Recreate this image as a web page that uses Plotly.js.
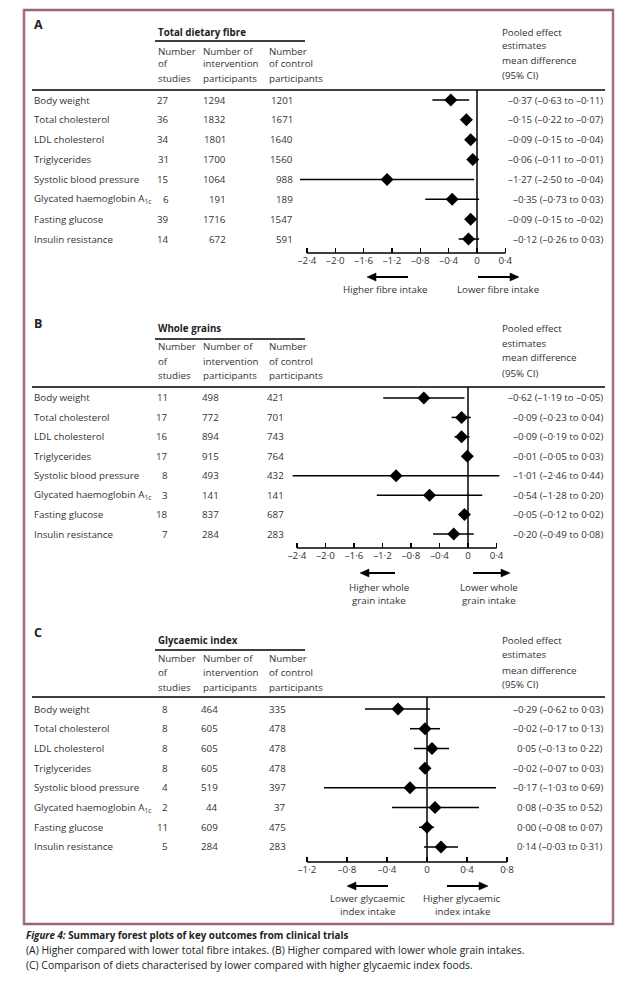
<!DOCTYPE html>
<html><head><meta charset="utf-8">
<script src="https://cdn.plot.ly/plotly-3.0.1.min.js"></script>
<style>html,body{margin:0;padding:0;background:#fff}#chart{width:640px;height:989px}</style>
</head><body><div id="chart"></div>
<script>
// ---------------- DATA ----------------
const outcomes = ["Body weight","Total cholesterol","LDL cholesterol","Triglycerides","Systolic blood pressure","Glycated haemoglobin A<sub>1c</sub>","Fasting glucose","Insulin resistance"];

const fibreStudies = [27,36,34,31,15,6,39,14];
const fibreIntervention = [1294,1832,1801,1700,1064,191,1716,672];
const fibreControl = [1201,1671,1640,1560,988,189,1547,591];
const fibreEstimate = [-0.37,-0.15,-0.09,-0.06,-1.27,-0.35,-0.09,-0.12];
const fibreLower = [-0.63,-0.22,-0.15,-0.11,-2.50,-0.73,-0.15,-0.26];
const fibreUpper = [-0.11,-0.07,-0.04,-0.01,-0.04,0.03,-0.02,0.03];
const fibreTicks = [-2.4,-2.0,-1.6,-1.2,-0.8,-0.4,0,0.4];

const grainStudies = [11,17,16,17,8,3,18,7];
const grainIntervention = [498,772,894,915,493,141,837,284];
const grainControl = [421,701,743,764,432,141,687,283];
const grainEstimate = [-0.62,-0.09,-0.09,-0.01,-1.01,-0.54,-0.05,-0.20];
const grainLower = [-1.19,-0.23,-0.19,-0.05,-2.46,-1.28,-0.12,-0.49];
const grainUpper = [-0.05,0.04,0.02,0.03,0.44,0.20,0.02,0.08];
const grainTicks = [-2.4,-2.0,-1.6,-1.2,-0.8,-0.4,0,0.4];

const giStudies = [8,8,8,8,4,2,11,5];
const giIntervention = [464,605,605,605,519,44,609,284];
const giControl = [335,478,478,478,397,37,475,283];
const giEstimate = [-0.29,-0.02,0.05,-0.02,-0.17,0.08,0.00,0.14];
const giLower = [-0.62,-0.17,-0.13,-0.07,-1.03,-0.35,-0.08,-0.03];
const giUpper = [0.03,0.13,0.22,0.03,0.69,0.52,0.07,0.31];
const giTicks = [-1.2,-0.8,-0.4,0,0.4,0.8];

const panelLetters = ["A","B","C"];
const panelTitles = ["Total dietary fibre","Whole grains","Glycaemic index"];
const leftArrowLabels = [["Higher fibre intake"],["Higher whole","grain intake"],["Lower glycaemic","index intake"]];
const rightArrowLabels = [["Lower fibre intake"],["Lower whole","grain intake"],["Higher glycaemic","index intake"]];
const headStudies = ["Number","of","studies"];
const headIntervention = ["Number of","intervention","participants"];
const headControl = ["Number","of control","participants"];
const headPooled = ["Pooled effect","estimates","mean difference","(95% CI)"];
const captionLines = [
  "<b><i>Figure 4:</i> Summary forest plots of key outcomes from clinical trials</b>",
  "(A) Higher compared with lower total fibre intakes. (B) Higher compared with lower whole grain intakes.",
  "(C) Comparison of diets characterised by lower compared with higher glycaemic index foods."
];

// ---------------- LAYOUT HELPERS ----------------
const W = 640, H = 989;
const px = v => v / W;
const py = v => 1 - v / H;
const FONT = "Open Sans, Liberation Sans, sans-serif";
const TXT = "#333333";
const FS = 9.75;

function fmt(v, d) {
  const s = Math.abs(v).toFixed(d).replace('.', '\u00b7');
  return (v < 0 ? '\u2013' : '') + s;
}
function tickFmt(v) { return v === 0 ? '0' : fmt(v, 1); }

const panels = [
  {data:{st:fibreStudies,iv:fibreIntervention,ct:fibreControl,est:fibreEstimate,lo:fibreLower,hi:fibreUpper,ticks:fibreTicks},
   letterY:25, titleY:32, underlineY:41, headY:[51,64,78], pooledY:[32,46,61,75], ruleY:90, row0:100, rowStep:19.86, axisY:253,
   zeroPx:477, ppu:70.83, dom:[283,527], arrowY:277, leftArrow:[408,367], rightArrow:[478,519], labelY0:289, leftLabelX:385, rightLabelX:498,
   colSt:171, colIv:228, colCt:295},
  {data:{st:grainStudies,iv:grainIntervention,ct:grainControl,est:grainEstimate,lo:grainLower,hi:grainUpper,ticks:grainTicks},
   letterY:323, titleY:328, underlineY:339, headY:[346,361,376], pooledY:[328,343,358,373], ruleY:387, row0:398, rowStep:19.43, axisY:548,
   zeroPx:468, ppu:71.25, dom:[283,527], arrowY:573, leftArrow:[395,360], rightArrow:[473,510], labelY0:587, leftLabelX:379, rightLabelX:489,
   colSt:170, colIv:221, colCt:286},
  {data:{st:giStudies,iv:giIntervention,ct:giControl,est:giEstimate,lo:giLower,hi:giUpper,ticks:giTicks},
   letterY:632, titleY:640, underlineY:650, headY:[658,672,687], pooledY:[640,654,670,684], ruleY:697, row0:709, rowStep:19.71, axisY:862,
   zeroPx:427, ppu:100, dom:[283,527], arrowY:886, leftArrow:[388,347], rightArrow:[447,488], labelY0:898, leftLabelX:367, rightLabelX:462,
   colSt:170, colIv:220, colCt:288}
];

const traces = [];
const shapes = [];
const annotations = [];
const layout = {
  width: W, height: H, margin:{l:0,r:0,t:0,b:0}, showlegend:false,
  paper_bgcolor:'#ffffff', plot_bgcolor:'rgba(0,0,0,0)',
  font:{family:FONT, size:FS, color:TXT}
};

// outer frame
shapes.push({type:'rect', xref:'paper', yref:'paper', x0:px(24), x1:px(613), y0:py(924), y1:py(10), line:{color:'#efc4d4', width:3.5}, layer:'below'});
shapes.push({type:'rect', xref:'paper', yref:'paper', x0:px(24), x1:px(613), y0:py(924), y1:py(10), line:{color:'#6a4c5e', width:1.3}, layer:'below'});

function txt(x, y, text, opts) {
  return Object.assign({xref:'paper', yref:'paper', x:px(x), y:py(y), text:text, showarrow:false,
    xanchor:'left', yanchor:'middle', font:{family:FONT, size:FS, color:TXT}}, opts || {});
}

function arrowShapes(tail, tip, y) {
  const dir = tip < tail ? -1 : 1;
  const headLen = 9, headHalf = 4;
  const base = tip - dir * headLen;
  shapes.push({type:'line', xref:'paper', yref:'paper', x0:px(tail), x1:px(base), y0:py(y), y1:py(y), line:{color:'#000', width:2}});
  const path = 'M ' + px(tip) + ' ' + py(y) + ' L ' + px(base) + ' ' + py(y - headHalf) + ' L ' + px(base) + ' ' + py(y + headHalf) + ' Z';
  shapes.push({type:'path', xref:'paper', yref:'paper', path:path, fillcolor:'#000', line:{color:'#000', width:0.5}});
}

panels.forEach((p, k) => {
  const n = k === 0 ? '' : String(k + 1);
  const xa = 'x' + n, ya = 'y' + n;
  const d = p.data;
  const rows = outcomes.map((_, i) => i);

  layout['xaxis' + n] = {
    domain:[px(p.dom[0]), px(p.dom[1])],
    range:[(p.dom[0] - p.zeroPx) / p.ppu, (p.dom[1] - p.zeroPx) / p.ppu],
    anchor:ya, showgrid:false, zeroline:false, showline:false,
    ticks:'inside', ticklen:5, tickwidth:1.4, tickcolor:'#000',
    tickvals:d.ticks, ticktext:d.ticks.map(tickFmt),
    tickfont:{family:FONT, size:FS, color:TXT}, ticklabelstandoff:0, fixedrange:true
  };
  layout['yaxis' + n] = {
    domain:[py(p.axisY), py(p.ruleY)],
    range:[(p.axisY - p.row0) / p.rowStep, (p.ruleY - p.row0) / p.rowStep],
    anchor:xa, visible:false, fixedrange:true
  };

  traces.push({
    type:'scatter', mode:'markers', x:d.est, y:rows, xaxis:xa, yaxis:ya,
    marker:{symbol:'diamond', size:10, color:'#000'},
    error_x:{type:'data', symmetric:false,
      array:d.est.map((e, i) => d.hi[i] - e),
      arrayminus:d.est.map((e, i) => e - d.lo[i]),
      thickness:1.5, width:0, color:'#000'},
    cliponaxis:false, hoverinfo:'skip'
  });

  shapes.push({type:'line', xref:xa, yref:ya + ' domain', x0:0, x1:0, y0:0, y1:1, line:{color:'#000', width:1.5}});
  shapes.push({type:'line', xref:xa, yref:ya + ' domain', x0:d.ticks[0], x1:d.ticks[d.ticks.length - 1], y0:0, y1:0, line:{color:'#000', width:1.5}});
  shapes.push({type:'line', xref:'paper', yref:'paper', x0:px(155), x1:px(305), y0:py(p.underlineY), y1:py(p.underlineY), line:{color:'#000', width:1.4}});
  shapes.push({type:'line', xref:'paper', yref:'paper', x0:px(32), x1:px(605), y0:py(p.ruleY), y1:py(p.ruleY), line:{color:'#000', width:1.6}});

  annotations.push(txt(32, p.letterY, '<b>' + panelLetters[k] + '</b>', {font:{family:FONT, size:12.5, color:'#222'}}));
  annotations.push(txt(156, p.titleY, '<b>' + panelTitles[k] + '</b>', {font:{family:FONT, size:FS, color:'#222'}}));
  headStudies.forEach((t, j) => annotations.push(txt(156, p.headY[j], t)));
  headIntervention.forEach((t, j) => annotations.push(txt(201, p.headY[j], t)));
  headControl.forEach((t, j) => annotations.push(txt(267, p.headY[j], t)));
  headPooled.forEach((t, j) => annotations.push(txt(500, p.pooledY[j], t)));

  outcomes.forEach((o, i) => {
    const base = {xref:'paper', yref:ya, y:i, showarrow:false, yanchor:'middle', font:{family:FONT, size:FS, color:TXT}};
    annotations.push(Object.assign({}, base, {x:px(32), xanchor:'left', text:o}));
    annotations.push(Object.assign({}, base, {x:px(p.colSt), xanchor:'right', text:String(d.st[i])}));
    annotations.push(Object.assign({}, base, {x:px(p.colIv), xanchor:'right', text:String(d.iv[i])}));
    annotations.push(Object.assign({}, base, {x:px(p.colCt), xanchor:'right', text:String(d.ct[i])}));
    annotations.push(Object.assign({}, base, {x:px(605), xanchor:'right',
      text:fmt(d.est[i], 2) + ' (' + fmt(d.lo[i], 2) + ' to ' + fmt(d.hi[i], 2) + ')'}));
  });

  arrowShapes(p.leftArrow[0], p.leftArrow[1], p.arrowY);
  arrowShapes(p.rightArrow[0], p.rightArrow[1], p.arrowY);
  leftArrowLabels[k].forEach((t, j) => annotations.push(txt(p.leftLabelX, p.labelY0 + j * 13, t, {xanchor:'center'})));
  rightArrowLabels[k].forEach((t, j) => annotations.push(txt(p.rightLabelX, p.labelY0 + j * 13, t, {xanchor:'center'})));
});

const capY = [935, 950, 965];
const capSize = [9.8, 10.4, 10.4];
captionLines.forEach((t, j) => annotations.push(txt(24, capY[j], t, {font:{family:FONT, size:capSize[j], color:'#222'}})));

layout.shapes = shapes;
layout.annotations = annotations;

Plotly.newPlot('chart', traces, layout, {staticPlot:true, displayModeBar:false});
</script>
</body></html>
